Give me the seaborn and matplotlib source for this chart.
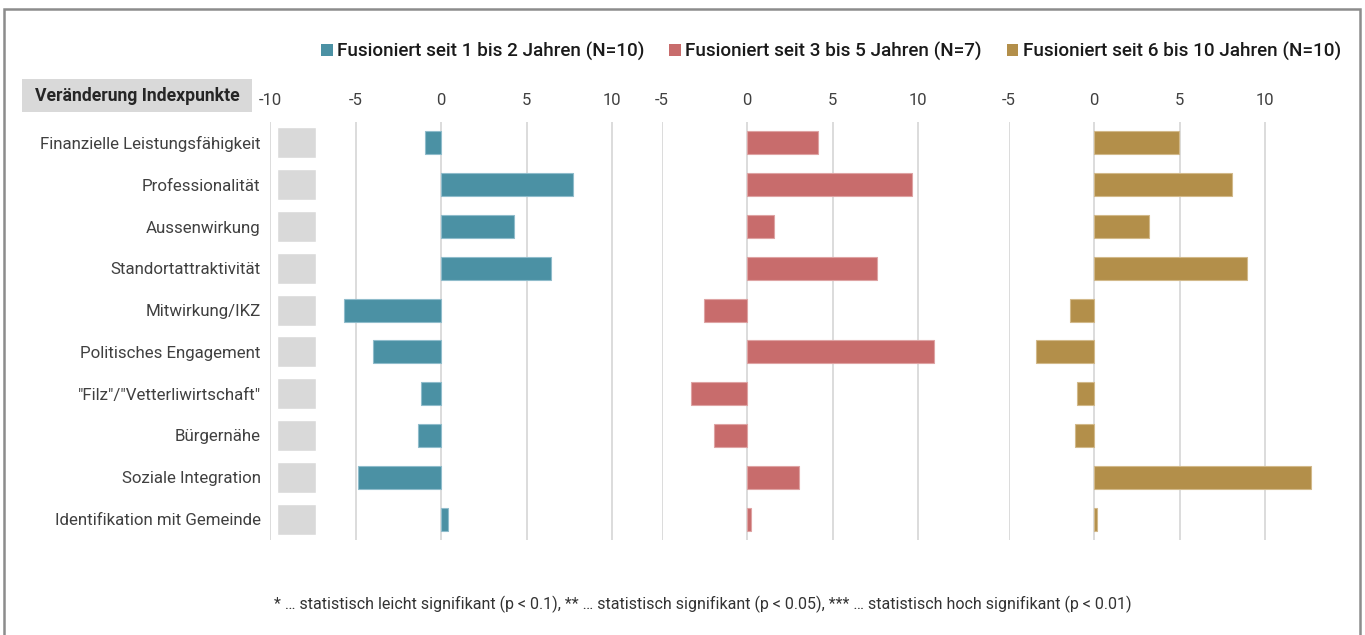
import matplotlib
matplotlib.use("Agg")
import matplotlib.pyplot as plt
from matplotlib.patches import Patch, Rectangle
import seaborn as sns
import pandas as pd

# ---------------- data ----------------
categories = [
    "Finanzielle Leistungsfähigkeit",
    "Professionalität",
    "Aussenwirkung",
    "Standortattraktivität",
    "Mitwirkung/IKZ",
    "Politisches Engagement",
    "\"Filz\"/\"Vetterliwirtschaft\"",
    "Bürgernähe",
    "Soziale Integration",
    "Identifikation mit Gemeinde",
]
series_names = [
    "Fusioniert seit 1 bis 2 Jahren (N=10)",
    "Fusioniert seit 3 bis 5 Jahren (N=7)",
    "Fusioniert seit 6 bis 10 Jahren (N=10)",
]
vals_1_2 = [-0.95, 7.72, 4.27, 6.43, -5.7, -4.0, -1.17, -1.36, -4.9, 0.39]
vals_3_5 = [4.17, 9.63, 1.6, 7.6, -2.53, 10.92, -3.27, -1.92, 3.03, 0.23]
vals_6_10 = [4.95, 8.05, 3.2, 8.93, -1.39, -3.39, -0.99, -1.11, 12.69, 0.18]
sig_box = [1] * len(categories)          # empty significance-marker boxes
ticks_1 = [-10, -5, 0, 5, 10]
ticks_2 = [-5, 0, 5, 10]
ticks_3 = [-5, 0, 5, 10]
header_label = "Veränderung Indexpunkte"
footnote = ("* … statistisch leicht signifikant (p < 0.1), ** … statistisch signifikant (p < 0.05), "
            "*** … statistisch hoch signifikant (p < 0.01)")

colors = ["#4B91A4", "#C86C6C", "#B38F4A"]
edge_colors = ["#8fbccb", "#dea3a3", "#d2b98a"]

# ---------------- layout ----------------
sns.set_theme(style="white")
plt.rcParams["font.family"] = ["Roboto", "DejaVu Sans"]

W, H = 1365, 635
fig = plt.figure(figsize=(W / 100, H / 100), dpi=100)


def rect(x0, x1, y0, y1):
    return [x0 / W, 1 - y1 / H, (x1 - x0) / W, (y1 - y0) / H]


TOP, BOT = 122, 540
PX = 17.1  # px per unit

panels = [
    (vals_1_2, ticks_1, (-10, 12.5), 270.3),
    (vals_3_5, ticks_2, (-5, 14.5), 661.5),
    (vals_6_10, ticks_3, (-5, 15.0), 1008.5),
]

text_col = "#404040"
axes = []
for i, (vals, ticks, xl, left) in enumerate(panels):
    right = left + (xl[1] - xl[0]) * PX
    ax = fig.add_axes(rect(left, right, TOP, BOT))
    df = pd.DataFrame({"cat": categories, "val": vals})
    sns.barplot(data=df, x="val", y="cat", orient="h", color=colors[i],
                width=0.55, ax=ax, edgecolor=edge_colors[i], linewidth=0.8,
                saturation=1)
    ax.set_xlim(*xl)
    ax.set_xticks(ticks)
    ax.set_xticklabels([str(t) for t in ticks])
    ax.xaxis.tick_top()
    ax.tick_params(axis="x", length=0, pad=10, labelsize=12, labelcolor=text_col)
    ax.set_xlabel("")
    ax.set_ylabel("")
    ax.grid(axis="x", color="#d9d9d9", linewidth=1.3)
    ax.grid(axis="y", visible=False)
    ax.set_axisbelow(True)
    for s in ax.spines.values():
        s.set_visible(False)
    if i == 0:
        ax.tick_params(axis="y", length=0, pad=7, labelsize=12.2, labelcolor=text_col)
    else:
        ax.set_yticks([])
    ax.patch.set_alpha(0)
    axes.append(ax)

# grey significance-marker column
axb = fig.add_axes(rect(277, 316, TOP, BOT))
sns.barplot(x=sig_box, y=categories, orient="h", color="#d9d9d9", width=0.74,
            ax=axb, saturation=1)
axb.set_xlim(0, 1)
axb.axis("off")

# header box
fig.patches.append(Rectangle((22 / W, 1 - 112 / H), (252 - 22) / W, (112 - 79) / H,
                             transform=fig.transFigure, facecolor="#d9d9d9",
                             edgecolor="none", zorder=0))
fig.text(137 / W, 1 - 96 / H, header_label, ha="center", va="center",
         fontsize=12.7, fontweight="bold", color="#262626")

# legend
handles = [Patch(facecolor=c, edgecolor="none") for c in colors]
leg = fig.legend(handles, series_names, loc="center", ncol=3,
                 bbox_to_anchor=(831 / W, 1 - 51 / H), frameon=False,
                 handlelength=0.6, handleheight=0.6, handletextpad=0.25,
                 columnspacing=1.3, prop={"size": 13.6, "weight": "medium"})
for t in leg.get_texts():
    t.set_color("#1a1a1a")

# footnote
fig.text(703 / W, 1 - 604 / H, footnote, ha="center", va="center",
         fontsize=11.5, color="#333333")

# outer border
fig.patches.append(Rectangle((4 / W, -0.05), (1360 - 4) / W, 1 - 9 / H + 0.05,
                             transform=fig.transFigure, facecolor="none",
                             edgecolor="#8c8c8c", linewidth=1.8, zorder=10))

fig.savefig("out.png", dpi=100)
